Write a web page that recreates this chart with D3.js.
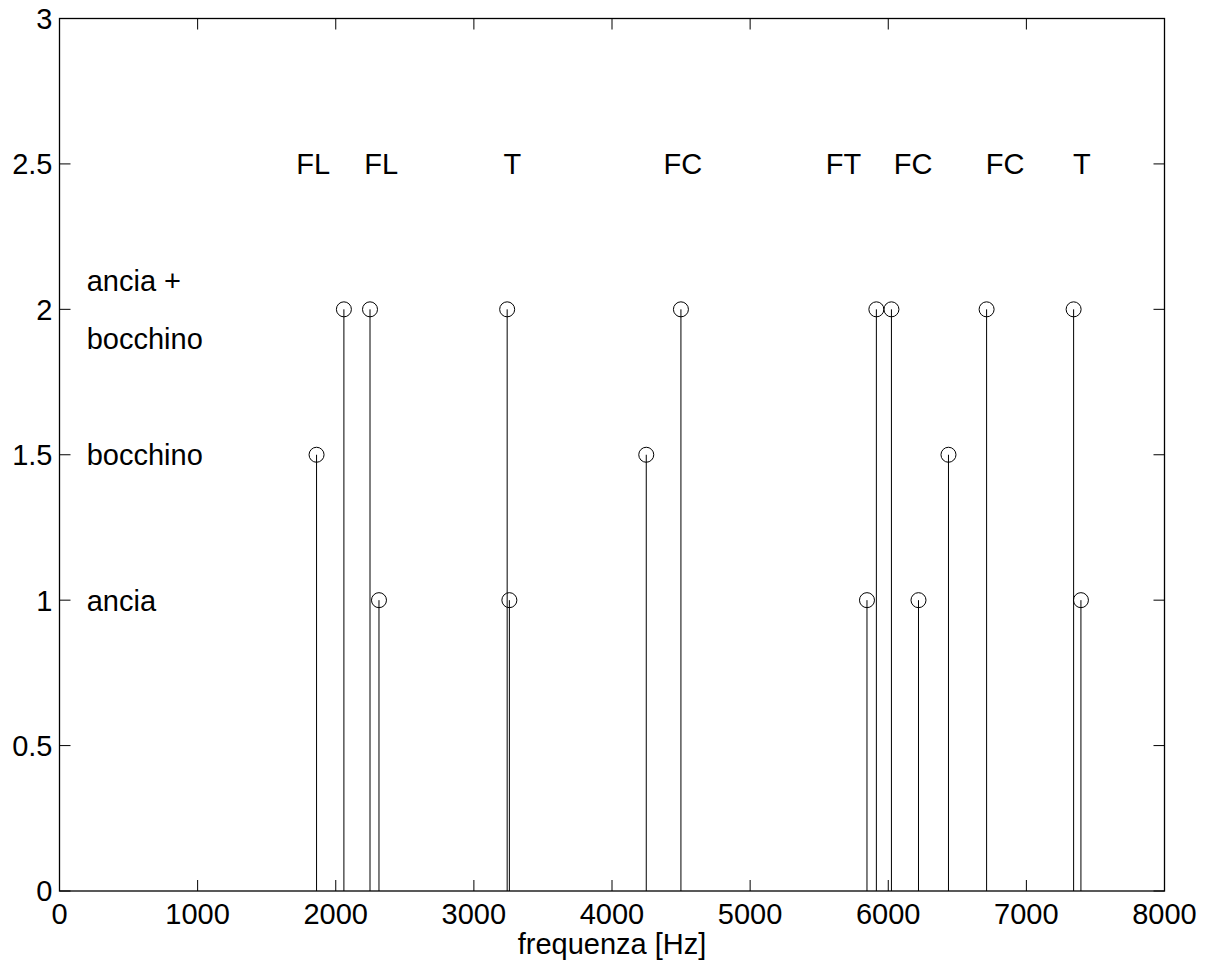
<!DOCTYPE html>
<html>
<head>
<meta charset="utf-8">
<script src="https://cdn.jsdelivr.net/npm/d3@7"></script>
<style>
  body { margin: 0; background: #fff; }
  text { font-family: 'Liberation Sans', Arial, sans-serif; fill: #000; }
</style>
</head>
<body>
<svg id="chart" width="1210" height="965"></svg>
<script>
// Stem frequencies (Hz) and their level on the y axis
const freqs = [1861, 2059, 2248, 2313, 3241, 3257, 4248, 4499, 5846, 5914, 6023, 6219, 6436, 6712, 7342, 7395];
const levels = [1.5, 2, 2, 1, 2, 1, 1.5, 2, 1, 2, 2, 1, 1.5, 2, 2, 1];

// Labels above the stems (left edge in Hz, y = 2.5)
const topLabels = ['FL', 'FL', 'T', 'FC', 'FT', 'FC', 'FC', 'T'];
const topLabelX = [1714, 2206, 3214, 4373, 5547, 6040, 6706, 7337];

// Labels on the left side of the plot
const sideLabels = ['ancia +', 'bocchino', 'bocchino', 'ancia'];
const sideLabelY = [2.1, 1.9, 1.5, 1];

const xTicks = [0, 1000, 2000, 3000, 4000, 5000, 6000, 7000, 8000];
const yTicks = [0, 0.5, 1, 1.5, 2, 2.5, 3];

const margin = { top: 18.5, right: 45.5, bottom: 74, left: 59.5 };
const width = 1210 - margin.left - margin.right;
const height = 965 - margin.top - margin.bottom;
const fontSize = 29;

const svg = d3.select('#chart');
const g = svg.append('g').attr('transform', `translate(${margin.left},${margin.top})`);

const x = d3.scaleLinear().domain([0, 8000]).range([0, width]);
const y = d3.scaleLinear().domain([0, 3]).range([height, 0]);

// inward ticks on all four sides
const tickLen = 11;
g.append('g').selectAll('line')
  .data(xTicks)
  .join('line')
  .attr('x1', (d) => x(d)).attr('x2', (d) => x(d))
  .attr('y1', height).attr('y2', height - tickLen)
  .attr('stroke', '#000');
g.append('g').selectAll('line')
  .data(xTicks)
  .join('line')
  .attr('x1', (d) => x(d)).attr('x2', (d) => x(d))
  .attr('y1', 0).attr('y2', tickLen)
  .attr('stroke', '#000');
g.append('g').selectAll('line')
  .data(yTicks)
  .join('line')
  .attr('x1', 0).attr('x2', tickLen)
  .attr('y1', (d) => y(d)).attr('y2', (d) => y(d))
  .attr('stroke', '#000');
g.append('g').selectAll('line')
  .data(yTicks)
  .join('line')
  .attr('x1', width).attr('x2', width - tickLen)
  .attr('y1', (d) => y(d)).attr('y2', (d) => y(d))
  .attr('stroke', '#000');

// tick labels
g.append('g').selectAll('text')
  .data(xTicks)
  .join('text')
  .attr('x', (d) => x(d))
  .attr('y', height + 33)
  .attr('text-anchor', 'middle')
  .style('font-size', `${fontSize}px`)
  .text((d) => d);
g.append('g').selectAll('text')
  .data(yTicks)
  .join('text')
  .attr('x', -7)
  .attr('y', (d) => y(d))
  .attr('dy', '0.36em')
  .attr('text-anchor', 'end')
  .style('font-size', `${fontSize}px`)
  .text((d) => d);

// box
g.append('rect')
  .attr('width', width)
  .attr('height', height)
  .attr('fill', 'none')
  .attr('stroke', '#000')
  .attr('stroke-width', 1.3);

// stems
const stems = freqs.map((f, i) => ({ f, v: levels[i] }));
g.append('g').selectAll('line')
  .data(stems)
  .join('line')
  .attr('x1', (d) => x(d.f)).attr('x2', (d) => x(d.f))
  .attr('y1', y(0)).attr('y2', (d) => y(d.v))
  .attr('stroke', '#000')
  .attr('stroke-width', 1);
g.append('g').selectAll('circle')
  .data(stems)
  .join('circle')
  .attr('cx', (d) => x(d.f))
  .attr('cy', (d) => y(d.v))
  .attr('r', 7.5)
  .attr('fill', 'none')
  .attr('stroke', '#000')
  .attr('stroke-width', 1);

// annotations
g.append('g').selectAll('text')
  .data(topLabels)
  .join('text')
  .attr('x', (d, i) => x(topLabelX[i]))
  .attr('y', y(2.5))
  .attr('dy', '0.36em')
  .style('font-size', `${fontSize}px`)
  .text((d) => d);
g.append('g').selectAll('text')
  .data(sideLabels)
  .join('text')
  .attr('x', x(197))
  .attr('y', (d, i) => y(sideLabelY[i]))
  .attr('dy', '0.36em')
  .style('font-size', `${fontSize}px`)
  .text((d) => d);

// x axis title
g.append('text')
  .attr('x', width / 2)
  .attr('y', height + 62.5)
  .attr('text-anchor', 'middle')
  .style('font-size', `${fontSize}px`)
  .text('frequenza [Hz]');
</script>
</body>
</html>
